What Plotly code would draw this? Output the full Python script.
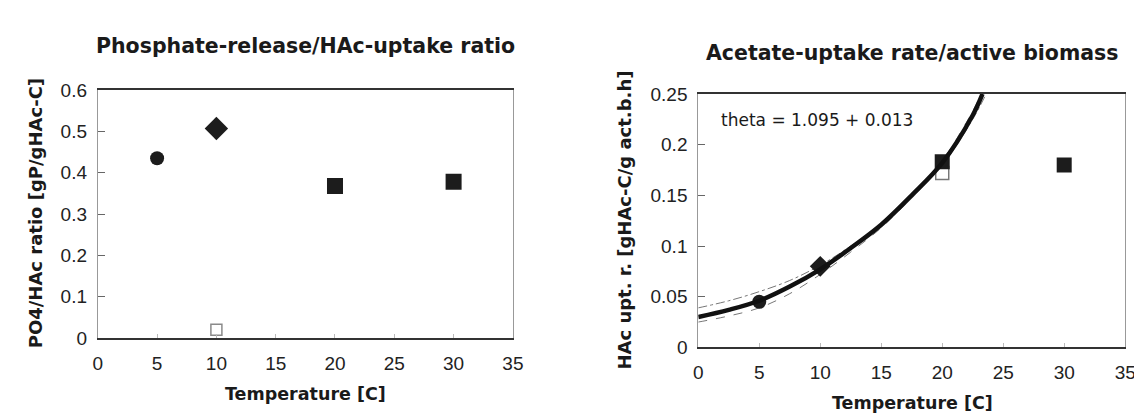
import plotly.graph_objects as go

# ---------------- data ----------------
# Left panel: Phosphate-release / HAc-uptake ratio
left_circle_T = [5];   left_circle_v = [0.435]
left_diamond_T = [10]; left_diamond_v = [0.507]
left_square_T = [20, 30]; left_square_v = [0.368, 0.378]
left_open_T = [10];    left_open_v = [0.020]

# Right panel: Acetate-uptake rate / active biomass
right_circle_T = [5];   right_circle_v = [0.045]
right_diamond_T = [10]; right_diamond_v = [0.080]
right_square_T = [20, 30]; right_square_v = [0.183, 0.180]
right_open_T = [20];    right_open_v = [0.172]

fit_T = [0, 2.5, 5, 7.5, 10, 12.5, 15, 17.5, 20, 22.5, 23.3]
fit_v = [0.030, 0.037, 0.046, 0.060, 0.077, 0.098, 0.121, 0.150, 0.182, 0.229, 0.250]
upper_T = [0, 2.5, 5, 7.5, 10, 12.5, 15, 17.5, 20, 22.5, 23.6]
upper_v = [0.039, 0.046, 0.055, 0.066, 0.081, 0.100, 0.122, 0.150, 0.180, 0.225, 0.250]
lower_T = [0, 2.5, 5, 7.5, 10, 12.5, 15, 17.5, 20, 22.5, 23.2]
lower_v = [0.025, 0.031, 0.039, 0.053, 0.072, 0.094, 0.118, 0.148, 0.184, 0.233, 0.250]

x_ticks = [0, 5, 10, 15, 20, 25, 30, 35]
left_y_ticks = [0, 0.1, 0.2, 0.3, 0.4, 0.5, 0.6]
left_y_labels = ["0", "0.1", "0.2", "0.3", "0.4", "0.5", "0.6"]
right_y_ticks = [0, 0.05, 0.1, 0.15, 0.2, 0.25]
right_y_labels = ["0", "0.05", "0.1", "0.15", "0.2", "0.25"]

W, H = 1142, 414
FONT = "DejaVu Sans"
TICKFONT = "Liberation Sans, Arial, sans-serif"
DARK = "#1c1c1c"

fig = go.Figure()

def mk(x, y, sym, size, xa, ya, fill=DARK, line_color=DARK, lw=0):
    fig.add_trace(go.Scatter(
        x=x, y=y, mode="markers", xaxis=xa, yaxis=ya, showlegend=False,
        marker=dict(symbol=sym, size=size, color=fill,
                    line=dict(color=line_color, width=lw))))

# left markers
mk(left_open_T, left_open_v, "square", 11, "x", "y", fill="white", line_color="#8a8a8a", lw=1.5)
mk(left_circle_T, left_circle_v, "circle", 14, "x", "y")
mk(left_diamond_T, left_diamond_v, "diamond", 18, "x", "y")
mk(left_square_T, left_square_v, "square", 16, "x", "y")

# right curves
fig.add_trace(go.Scatter(x=upper_T, y=upper_v, mode="lines", xaxis="x2", yaxis="y2",
                         showlegend=False, line=dict(color="#777", width=1, dash="dashdot", shape="spline")))
fig.add_trace(go.Scatter(x=lower_T, y=lower_v, mode="lines", xaxis="x2", yaxis="y2",
                         showlegend=False, line=dict(color="#777", width=1, dash="dash", shape="spline")))
# right markers
mk(right_open_T, right_open_v, "square", 13, "x2", "y2", fill="white", line_color="#777", lw=1.5)
mk(right_circle_T, right_circle_v, "circle", 14, "x2", "y2")
mk(right_diamond_T, right_diamond_v, "diamond", 16, "x2", "y2")
mk(right_square_T, right_square_v, "square", 15, "x2", "y2")
fig.add_trace(go.Scatter(x=fit_T, y=fit_v, mode="lines", xaxis="x2", yaxis="y2",
                         showlegend=False, line=dict(color="#111", width=4.5, shape="spline")))

def px_x(p): return p / W
def px_y(p): return 1 - p / H

tickfont = dict(family=TICKFONT, size=19, color="#222")
xcommon = dict(range=[0, 35], tickvals=x_ticks, showgrid=False, zeroline=False,
               showline=True, linecolor="#333", linewidth=2, mirror=True,
               ticks="inside", ticklen=4, tickcolor="#bbb", tickfont=tickfont,
               ticklabelstandoff=7)
ycommon = dict(showgrid=False, zeroline=False, showline=True, linecolor="#999",
               linewidth=1, mirror=True, ticks="inside", ticklen=7, tickcolor="#666",
               tickfont=tickfont, ticklabelstandoff=6)

fig.update_layout(
    width=W, height=H, margin=dict(l=0, r=0, t=0, b=0),
    paper_bgcolor="white", plot_bgcolor="white",
    xaxis=dict(domain=[px_x(86), px_x(507)], anchor="y", **xcommon),
    yaxis=dict(domain=[px_y(337), px_y(76)], anchor="x", range=[0, 0.6],
               tickvals=left_y_ticks, ticktext=left_y_labels, **ycommon),
    xaxis2=dict(domain=[px_x(695), px_x(1128)], anchor="y2", **xcommon),
    yaxis2=dict(domain=[px_y(347), px_y(80)], anchor="x2", range=[0, 0.25],
                tickvals=right_y_ticks, ticktext=right_y_labels, **ycommon),
)

def ann(text, x, y, size, bold=True, angle=0, xanchor="center"):
    fig.add_annotation(text=f"<b>{text}</b>" if bold else text, xref="paper", yref="paper",
                       x=px_x(x), y=px_y(y), showarrow=False, textangle=angle,
                       xanchor=xanchor, yanchor="middle",
                       font=dict(family=FONT, size=size, color="#1a1a1a"))

ann("Phosphate-release/HAc-uptake ratio", 297, 29, 20.5)
ann("Acetate-uptake rate/active biomass", 912, 37, 20.5)
ann("Temperature [C]", 297, 396, 17.5)
ann("Temperature [C]", 912, 406, 17.5)
ann("PO4/HAc ratio [gP/gHAc-C]", 23, 206, 18, angle=-90)
ann("HAc upt. r. [gHAc-C/g act.b.h]", 620, 213, 18, angle=-90)
ann("theta = 1.095 + 0.013", 716, 107, 17, bold=False, xanchor="left")

fig.write_html("out.html")
